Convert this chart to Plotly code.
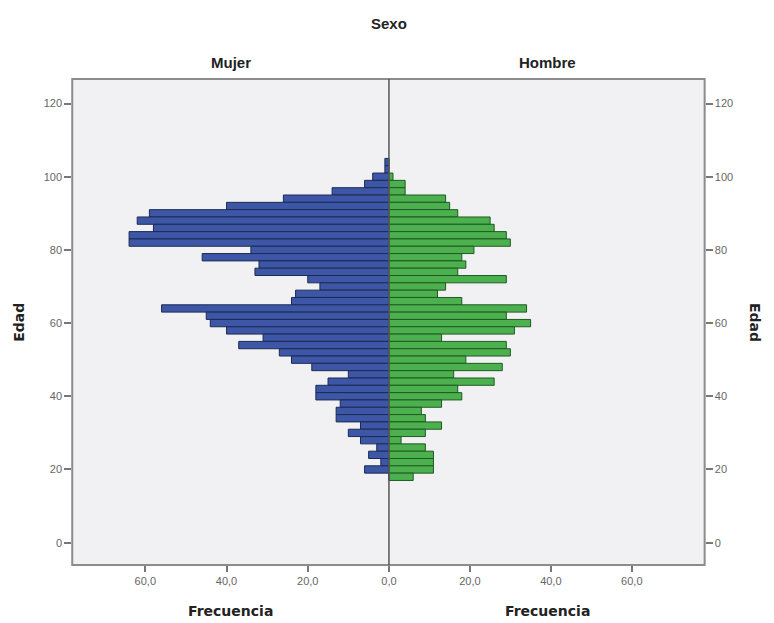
import plotly.graph_objects as go

# Age bins (2-year bins, centres) from top to bottom
ages = [104, 102, 100, 98, 96, 94, 92, 90, 88, 86, 84, 82, 80, 78, 76, 74, 72, 70, 68, 66,
        64, 62, 60, 58, 56, 54, 52, 50, 48, 46, 44, 42, 40, 38, 36, 34, 32, 30, 28, 26,
        24, 22, 20, 18]

mujer = [1, 1, 4, 6, 14, 26, 40, 59, 62, 58, 64, 64, 34, 46, 32, 33, 20, 17, 23, 24,
         56, 45, 44, 40, 31, 37, 27, 24, 19, 10, 15, 18, 18, 12, 13, 13, 7, 10, 7, 3,
         5, 2, 6, 0]

hombre = [0, 0, 1, 4, 4, 14, 15, 17, 25, 26, 29, 30, 21, 18, 19, 17, 29, 14, 12, 18,
          34, 29, 35, 31, 13, 29, 30, 19, 28, 16, 26, 17, 18, 13, 8, 9, 13, 9, 3, 9,
          11, 11, 11, 6]

x_ticks = [0, 20, 40, 60]
x_ticklabels = ["0,0", "20,0", "40,0", "60,0"]
y_ticks = [0, 20, 40, 60, 80, 100, 120]

W, H = 774, 623
L, R, T, B, C = 73, 712, 79, 565, 393

def px(x):
    return x / W

def py(y):
    return 1 - y / H

fig = go.Figure()
fig.add_trace(go.Bar(y=ages, x=mujer, orientation="h", width=2,
                     marker=dict(color="#3D57A6", line=dict(color="#1C2A55", width=1)),
                     xaxis="x", yaxis="y", name="Mujer", showlegend=False))
fig.add_trace(go.Bar(y=ages, x=hombre, orientation="h", width=2,
                     marker=dict(color="#4DB04F", line=dict(color="#1E5B22", width=1)),
                     xaxis="x2", yaxis="y2", name="Hombre", showlegend=False))

tickfont = dict(family="Liberation Sans, Arial, sans-serif", size=11, color="#666666")
yr = [-6.1, 126.7]

fig.update_layout(
    width=W, height=H, autosize=False,
    margin=dict(l=0, r=0, t=0, b=0),
    paper_bgcolor="white",
    plot_bgcolor="#F1F1F3",
    xaxis=dict(domain=[px(L), px(C)], range=[78, 0], tickvals=x_ticks,
               ticktext=x_ticklabels, ticks="outside", ticklen=6, tickwidth=2,
               tickcolor="#777777", showgrid=False, zeroline=False, showline=False,
               tickfont=tickfont, anchor="y"),
    xaxis2=dict(domain=[px(C), px(R)], range=[0, 78], tickvals=x_ticks[1:],
                ticktext=x_ticklabels[1:], ticks="outside", ticklen=6, tickwidth=2,
                tickcolor="#777777", showgrid=False, zeroline=False, showline=False,
                tickfont=tickfont, anchor="y2"),
    yaxis=dict(domain=[py(B), py(T)], range=yr, tickvals=y_ticks, ticks="outside",
               ticklen=7, tickwidth=2, tickcolor="#777777", showgrid=False,
               zeroline=False, showline=False, tickfont=tickfont, anchor="x"),
    yaxis2=dict(domain=[py(B), py(T)], range=yr, tickvals=y_ticks, ticks="outside",
                ticklen=7, tickwidth=2, tickcolor="#777777", showgrid=False,
                zeroline=False, showline=False, tickfont=tickfont, anchor="x2",
                side="right"),
    shapes=[
        dict(type="rect", xref="paper", yref="paper", x0=px(L), x1=px(R),
             y0=py(B), y1=py(T), line=dict(color="#8C8C8C", width=2)),
        dict(type="line", xref="paper", yref="paper", x0=px(C), x1=px(C),
             y0=py(B), y1=py(T), line=dict(color="#555555", width=1.5)),
    ],
)

titlefont = dict(family="Liberation Sans, Arial, sans-serif", size=15, color="#222222")
labfont = dict(family="DejaVu Sans, Verdana, sans-serif", size=14, color="#222222")
ann = [
    dict(text="<b>Sexo</b>", x=px(393), y=py(23), font=titlefont),
    dict(text="<b>Mujer</b>", x=px(233), y=py(62), font=titlefont),
    dict(text="<b>Hombre</b>", x=px(553), y=py(62), font=titlefont),
    dict(text="<b>Frecuencia</b>", x=px(233), y=py(611), font=labfont),
    dict(text="<b>Frecuencia</b>", x=px(553), y=py(611), font=labfont),
    dict(text="<b>Edad</b>", x=px(19), y=py(322), font=labfont, textangle=-90),
    dict(text="<b>Edad</b>", x=px(763), y=py(322), font=labfont, textangle=90),
]
for a in ann:
    fig.add_annotation(xref="paper", yref="paper", showarrow=False,
                       xanchor="center", yanchor="middle", **a)

post = (
    "document.documentElement.style.overflow='hidden';"
    "document.documentElement.style.margin='0';"
    "document.body.style.margin='0';"
    "document.body.style.padding='0';"
    "document.body.style.overflow='hidden';"
    "var gd=document.getElementById('{plot_id}');"
    "gd.style.position='absolute';gd.style.left='0px';gd.style.top='0px';"
)
fig.write_html("out.html", post_script=post,
               config={"displayModeBar": False, "responsive": False})
